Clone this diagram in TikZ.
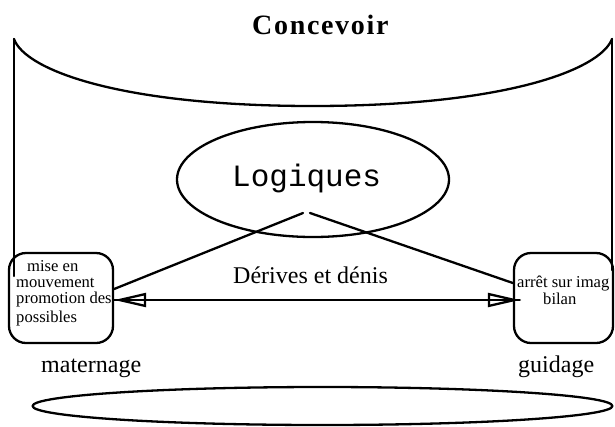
\documentclass[tikz,border=0pt]{standalone}
\usepackage{fontspec}
\setmainfont{Liberation Serif}
\newfontfamily\logfont{Liberation Mono}
\newfontfamily\titlefont[LetterSpace=6]{Liberation Serif}
\usetikzlibrary{shapes.geometric,arrows.meta,calc}
\tikzset{
  stroke/.style={line width=2.3pt, line cap=round, line join=round},
  roundbox/.style={stroke, draw, rounded corners=17pt, minimum width=104pt, minimum height=90pt, inner sep=0pt},
  txt/.style={inner sep=0pt, anchor=base west, font=\fontsize{24}{28}\selectfont},
  boxtxt/.style={inner sep=0pt, anchor=base west, font=\fontsize{16.6}{19}\selectfont},
  openhead/.style={-{Triangle[open, length=32pt, width=14pt, line width=2.3pt]}},
}
\begin{document}
\begin{tikzpicture}[x=1pt, y=-1pt]
  \useasboundingbox (0,0) rectangle (615,426);

  % title
  \node[inner sep=0pt, anchor=base west, font=\titlefont\bfseries\fontsize{28}{32}\selectfont] (title) at (252,34) {Concevoir};

  % upper arc with its two side walls
  \coordinate (tl) at (14,39);
  \coordinate (tr) at (612,39);
  \coordinate (arcmid) at (312.5,106);
  \coordinate (wallL) at (14,276);
  \coordinate (wallR) at (612,270);
  \draw[stroke] (tl) .. controls (25,70) and (120,106) .. (arcmid)
                     .. controls (505,106) and (600,70) .. (tr);
  \draw[stroke] (tl) -- (wallL);
  \draw[stroke] (tr) -- (wallR);

  % central ellipse
  \node[stroke, draw, ellipse, minimum width=272pt, minimum height=115pt, inner sep=0pt] (logq) at (313,179.5) {};
  \node[inner sep=0pt, anchor=base west, font=\logfont\fontsize{31}{34}\selectfont] (logtxt) at (232,186) {Logiques};

  % side boxes
  \node[roundbox] (lbox) at (61,298) {};
  \node[roundbox, minimum width=99pt] (rbox) at (563.5,298) {};

  \node[boxtxt] (l1) at (27,271) {mise en};
  \node[boxtxt] (l2) at (16,287) {mouvement};
  \node[boxtxt] (l3) at (16,303) {promotion des};
  \node[boxtxt] (l4) at (16,322) {possibles};

  \node[boxtxt] (r1) at (517,287) {arrêt sur imag};
  \node[boxtxt] (r2) at (543,304) {bilan};

  % the two branches under the ellipse
  \coordinate (apexL) at (303,213);
  \coordinate (apexR) at (310,213);
  \draw[stroke] ([yshift=9pt]lbox.east) -- (apexL);
  \draw[stroke] (apexR) -- ([yshift=15pt]rbox.west);

  % double arrow between the boxes
  \draw[stroke, openhead] ($(lbox.east)+(0,300-298)$) -- ($(rbox.west)+(7,300-298)$);
  \draw[stroke, openhead] ($(rbox.west)+(7,300-298)$) -- ($(lbox.east)+(0,300-298)$);
  \node[txt] (drv) at (233,283) {Dérives et dénis};

  % captions
  \node[txt] (mat) at (41,372) {maternage};
  \node[txt] (gui) at (518,372) {guidage};

  % lower ellipse
  \node[stroke, draw, ellipse, minimum width=580pt, minimum height=38pt, inner sep=0pt] (base) at (322.5,406) {};
\end{tikzpicture}
\end{document}
